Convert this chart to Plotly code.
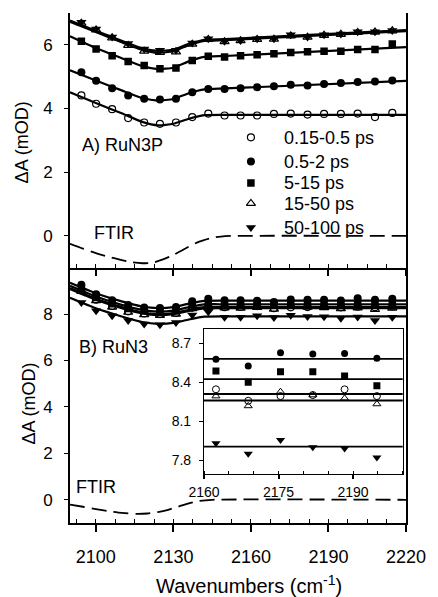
import plotly.graph_objects as go

# ---------------- data ----------------
# probe wavenumbers (cm-1)
wn = [2094.4, 2100.1, 2106.3, 2112.5, 2118.7, 2124.8, 2131.0, 2137.3, 2143.5, 2149.8,
      2156.0, 2162.4, 2168.9, 2175.4, 2181.9, 2188.3, 2194.8, 2201.3, 2208.0, 2214.7]

delays = ["0.15-0.5 ps", "0.5-2 ps", "5-15 ps", "15-50 ps", "50-100 ps"]

# A) RuN3P transient spectra (mOD)
runp_015 = [4.41, 4.15, 3.98, 3.70, 3.56, 3.52, 3.56, 3.73, 3.84, 3.78,
            3.78, 3.78, 3.83, 3.84, 3.81, 3.83, 3.83, 3.84, 3.73, 3.86]
runp_05 = [5.14, 4.87, 4.64, 4.41, 4.31, 4.28, 4.31, 4.51, 4.61, 4.61,
           4.64, 4.67, 4.70, 4.75, 4.72, 4.77, 4.80, 4.83, 4.85, 4.88]
runp_5 = [6.11, 5.87, 5.66, 5.48, 5.35, 5.25, 5.27, 5.51, 5.64, 5.62,
          5.66, 5.69, 5.72, 5.76, 5.78, 5.80, 5.80, 5.85, 5.85, 6.03]
runp_15 = [6.68, 6.47, 6.22, 5.98, 5.80, 5.76, 5.78, 6.02, 6.17, 6.10,
           6.13, 6.17, 6.18, 6.28, 6.24, 6.30, 6.33, 6.39, 6.40, 6.44]
runp_50 = [6.71, 6.50, 6.25, 6.04, 5.87, 5.83, 5.83, 6.06, 6.19, 6.11,
           6.14, 6.19, 6.19, 6.32, 6.25, 6.32, 6.34, 6.41, 6.41, 6.45]

# B) RuN3 transient spectra (mOD)
run_015 = [9.02, 8.62, 8.35, 8.12, 8.03, 8.00, 8.05, 8.28, 8.33, 8.30,
           8.31, 8.346, 8.258, 8.294, 8.302, 8.346, 8.294, 8.32, 8.30, 8.33]
run_05 = [9.26, 8.86, 8.60, 8.39, 8.29, 8.26, 8.31, 8.55, 8.66, 8.60,
          8.60, 8.577, 8.525, 8.628, 8.618, 8.623, 8.585, 8.68, 8.62, 8.66]
run_5 = [9.12, 8.72, 8.45, 8.24, 8.14, 8.11, 8.16, 8.40, 8.47, 8.44,
         8.45, 8.487, 8.400, 8.482, 8.482, 8.449, 8.374, 8.45, 8.40, 8.44]
run_15 = [8.98, 8.58, 8.30, 8.08, 7.98, 7.95, 8.00, 8.24, 8.28, 8.27,
          8.26, 8.294, 8.218, 8.328, 8.302, 8.277, 8.233, 8.27, 8.20, 8.26]
run_50 = [8.50, 8.14, 7.93, 7.72, 7.57, 7.54, 7.64, 7.96, 8.10, 7.86,
          7.86, 7.93, 7.85, 7.956, 7.90, 7.89, 7.82, 7.88, 7.72, 7.86]

# fitted curves, sampled at these wavenumbers
fit_wn = [2090, 2100, 2110, 2118, 2124, 2130, 2136, 2142, 2150, 2220]
fitp_015 = [4.51, 4.17, 3.85, 3.58, 3.47, 3.52, 3.68, 3.79, 3.80, 3.80]
fitp_05 = [5.20, 4.88, 4.57, 4.33, 4.25, 4.30, 4.48, 4.60, 4.63, 4.87]
fitp_5 = [6.27, 5.90, 5.58, 5.33, 5.24, 5.28, 5.48, 5.62, 5.65, 5.93]
fitp_15 = [6.72, 6.40, 6.08, 5.84, 5.75, 5.80, 5.99, 6.12, 6.15, 6.43]
fitp_50 = [6.76, 6.44, 6.13, 5.89, 5.81, 5.85, 6.03, 6.16, 6.18, 6.46]

fit_015 = [9.12, 8.66, 8.30, 8.07, 8.00, 8.04, 8.19, 8.30, 8.31, 8.31]
fit_05 = [9.35, 8.90, 8.55, 8.33, 8.26, 8.30, 8.45, 8.57, 8.58, 8.58]
fit_5 = [9.22, 8.76, 8.40, 8.18, 8.11, 8.15, 8.30, 8.42, 8.425, 8.425]
fit_15 = [9.08, 8.62, 8.26, 8.03, 7.96, 8.00, 8.14, 8.25, 8.26, 8.26]
fit_50 = [8.70, 8.25, 7.90, 7.66, 7.58, 7.62, 7.77, 7.89, 7.905, 7.905]

# steady-state FTIR spectra
ftir_wn_a = [2090, 2095, 2100, 2105, 2110, 2114, 2118, 2122, 2126, 2130,
             2135, 2140, 2145, 2150, 2155, 2220]
ftir_a = [-0.25, -0.40, -0.54, -0.66, -0.76, -0.83, -0.86, -0.84, -0.74, -0.60,
          -0.38, -0.18, -0.06, -0.01, 0.0, 0.0]
ftir_wn_b = [2090, 2095, 2100, 2105, 2110, 2116, 2120, 2124, 2128, 2132,
             2136, 2140, 2145, 2220]
ftir_b = [-0.21, -0.30, -0.40, -0.49, -0.56, -0.61, -0.59, -0.53, -0.43, -0.29,
          -0.15, -0.05, 0.0, 0.0]

x_ticks = [2100, 2130, 2160, 2190, 2220]
inset_ticks = [2160, 2175, 2190]
inset_yticks = [7.8, 8.1, 8.4, 8.7]

# ---------------- layout geometry (pixels) ----------------
W, H = 438, 597
L, R, T, B = 70.0, 416.7, 13.3, 522.7
MID = 267.7
XR = [2090, 2220]
YR_A = [-1, 7]
YR_B = [-1, 10]
IX = [2160, 2200]
IY = [7.692, 8.808]


def fx(px):
    return (px - L) / (R - L)


def fy(py):
    return (B - py) / (B - T)


def ya_from_px(py):
    return YR_A[1] - (py - T) * (YR_A[1] - YR_A[0]) / (MID - T)


FONT = "Arial, Liberation Sans, sans-serif"
BLACK = "#000000"

styles = [
    dict(symbol="circle-open", size=7, line=dict(width=1.2, color=BLACK), color=BLACK),
    dict(symbol="circle", size=8, color=BLACK),
    dict(symbol="square", size=7.5, color=BLACK),
    dict(symbol="triangle-up-open", size=8, line=dict(width=1.2, color=BLACK), color=BLACK),
    dict(symbol="triangle-down", size=9, color=BLACK),
]
inset_styles = [
    dict(symbol="circle-open", size=7, line=dict(width=1, color=BLACK), color=BLACK),
    dict(symbol="circle", size=7, color=BLACK),
    dict(symbol="square", size=7, color=BLACK),
    dict(symbol="triangle-up-open", size=7, line=dict(width=1, color=BLACK), color=BLACK),
    dict(symbol="triangle-down", size=8, color=BLACK),
]

series_a = [runp_015, runp_05, runp_5, runp_15, runp_50]
fits_a = [fitp_015, fitp_05, fitp_5, fitp_15, fitp_50]
series_b = [run_015, run_05, run_5, run_15, run_50]
fits_b = [fit_015, fit_05, fit_5, fit_15, fit_50]
draw_order = [3, 0, 1, 2, 4]

fig = go.Figure()


def add_fits(fits, xa, ya, width):
    for f in fits:
        fig.add_trace(go.Scatter(x=fit_wn, y=f, mode="lines", xaxis=xa, yaxis=ya,
                                 line=dict(color=BLACK, width=width, shape="spline", smoothing=0.5),
                                 hoverinfo="skip", showlegend=False))


def add_points(series, xa, ya, sty, xs=None):
    for k in draw_order:
        xv, yv = wn, series[k]
        if xs is not None:
            pairs = [(a, b) for a, b in zip(wn, series[k]) if xs[0] <= a <= xs[1]]
            xv = [p[0] for p in pairs]
            yv = [p[1] for p in pairs]
        fig.add_trace(go.Scatter(x=xv, y=yv, mode="markers", xaxis=xa, yaxis=ya,
                                 marker=sty[k], name=delays[k], showlegend=False))


# panel A
add_fits(fits_a, "x", "y", 2.2)
fig.add_trace(go.Scatter(x=ftir_wn_a, y=ftir_a, mode="lines", xaxis="x", yaxis="y",
                         line=dict(color=BLACK, width=1.8, dash="15px,7px", shape="spline", smoothing=0.6),
                         showlegend=False))
add_points(series_a, "x", "y", styles)

# panel B
add_fits(fits_b, "x2", "y2", 2.2)
fig.add_trace(go.Scatter(x=ftir_wn_b, y=ftir_b, mode="lines", xaxis="x2", yaxis="y2",
                         line=dict(color=BLACK, width=1.8, dash="15px,7px", shape="spline", smoothing=0.6),
                         showlegend=False))
add_points(series_b, "x2", "y2", styles)

# inset: zoom on the flat region of panel B
add_fits(fits_b, "x3", "y3", 1.8)
add_points(series_b, "x3", "y3", inset_styles, xs=IX)

# legend (custom, inside panel A)
leg_px = [137.5, 161.7, 183.0, 203.5, 227.5]
for k in range(5):
    fig.add_trace(go.Scatter(x=[2160], y=[ya_from_px(leg_px[k])], mode="markers",
                             xaxis="x", yaxis="y", marker=styles[k], showlegend=False,
                             hoverinfo="skip"))

axis_common = dict(showgrid=False, zeroline=False, linecolor=BLACK, tickcolor=BLACK,
                   tickfont=dict(family=FONT, size=18, color=BLACK))

xa_main = dict(axis_common, range=XR, domain=[0, 1], showline=True, linewidth=1.6,
               ticks="outside", ticklen=7, tickwidth=1.8, tickvals=x_ticks,
               minor=dict(ticks="inside", ticklen=4, tickwidth=1, tick0=2100, dtick=7.5,
                          tickcolor=BLACK, showgrid=False))

layout = dict(
    width=W, height=H,
    margin=dict(l=L, r=W - R, t=T, b=H - B, pad=0),
    paper_bgcolor="white", plot_bgcolor="white",
    showlegend=False,
    font=dict(family=FONT, color=BLACK),
    xaxis=dict(xa_main, anchor="y", showticklabels=False),
    xaxis2=dict(xa_main, anchor="y2", showticklabels=True, ticklabelstandoff=10),
    yaxis=dict(axis_common, domain=[fy(MID), 1], range=YR_A, anchor="x", showline=True,
               linewidth=1.6, mirror=True, ticks="outside", ticklen=4, tickwidth=1.2,
               tickvals=[0, 2, 4, 6], tickfont=dict(family=FONT, size=17, color=BLACK),
               ticklabelstandoff=8),
    yaxis2=dict(axis_common, domain=[0, fy(MID)], range=YR_B, anchor="x2", showline=True,
                linewidth=1.6, mirror=True, ticks="outside", ticklen=4, tickwidth=1.2,
                tickvals=[0, 2, 4, 6, 8], tickfont=dict(family=FONT, size=17, color=BLACK),
                ticklabelstandoff=8),
    # inset axes
    xaxis3=dict(axis_common, domain=[fx(208.3), fx(413.3)], range=IX, anchor="y3",
                showline=True, linewidth=1.2, mirror=True, ticks="outside", ticklen=4,
                tickwidth=1.5, tickvals=inset_ticks,
                tickfont=dict(family=FONT, size=14, color=BLACK), ticklabelstandoff=1,
                minor=dict(ticks="inside", ticklen=3, tickwidth=1, tick0=2160, dtick=5,
                           tickcolor=BLACK, showgrid=False)),
    yaxis3=dict(axis_common, domain=[fy(474), fy(329.3)], range=IY, anchor="x3",
                showline=True, linewidth=1.2, mirror=True, ticks="outside", ticklen=4,
                tickwidth=1, tickvals=inset_yticks, ticktext=[f"{v:.1f}" for v in inset_yticks],
                tickfont=dict(family=FONT, size=14, color=BLACK), ticklabelstandoff=5),
    # extra tick overlays (crossing major ticks, top-border ticks)
    xaxis5=dict(showgrid=False, zeroline=False, range=XR, overlaying="x", anchor="y",
                side="bottom", showline=False, ticks="inside", ticklen=7, tickwidth=1.8,
                tickcolor=BLACK, tickvals=x_ticks, showticklabels=False),
    xaxis6=dict(showgrid=False, zeroline=False, range=XR, overlaying="x", anchor="y",
                side="top", showline=True, linewidth=1.6, linecolor=BLACK, ticks="inside",
                ticklen=4, tickwidth=1, tickcolor=BLACK, tick0=2100, dtick=7.5,
                showticklabels=False),
    xaxis7=dict(showgrid=False, zeroline=False, range=XR, overlaying="x2", anchor="y2",
                side="bottom", showline=False, ticks="inside", ticklen=7, tickwidth=1.8,
                tickcolor=BLACK, tickvals=x_ticks, showticklabels=False),
    xaxis8=dict(showgrid=False, zeroline=False, range=IX, overlaying="x3", anchor="y3",
                side="top", showline=False, ticks="inside", ticklen=3, tickwidth=1,
                tickcolor=BLACK, tick0=2160, dtick=5, showticklabels=False),
    xaxis9=dict(showgrid=False, zeroline=False, range=IX, overlaying="x3", anchor="y3",
                side="bottom", showline=False, ticks="inside", ticklen=4, tickwidth=1.5,
                tickcolor=BLACK, tickvals=inset_ticks, showticklabels=False),
)
fig.update_layout(**layout)

# text labels
ann = []


def label(text, px, py, size=18, xanchor="left", angle=0):
    ann.append(dict(text=text, x=fx(px), y=fy(py), xref="paper", yref="paper",
                    xanchor=xanchor, yanchor="middle", showarrow=False, textangle=angle,
                    font=dict(family=FONT, size=size, color=BLACK)))


label("A) RuN3P", 80.5, 145)
label("B) RuN3", 77.5, 347)
label("FTIR", 92.5, 233)
label("FTIR", 74.5, 487)
for k in range(5):
    label(delays[k], 289, leg_px[k] + 0.5)
label("\u0394A (mOD)", 20, 143, xanchor="center", angle=-90)
label("\u0394A (mOD)", 28, 403, xanchor="center", angle=-90)
label("Wavenumbers (cm<sup>-1</sup>)", 255, 584, size=20, xanchor="center")
fig.update_layout(annotations=ann)

fig.write_html("out.html")
